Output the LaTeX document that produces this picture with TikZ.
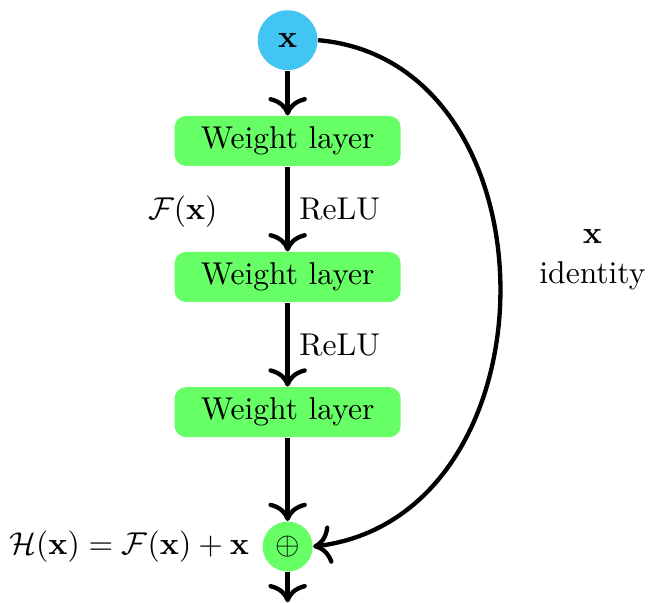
\documentclass[tikz,border=0pt]{standalone}
\usepackage{amsmath}
\usetikzlibrary{positioning,arrows.meta}
\definecolor{inblue}{RGB}{66,197,242}
\definecolor{laygreen}{RGB}{102,255,102}
\tikzset{
    layer/.style={fill=laygreen, rounded corners=4pt, minimum width=2.76cm, minimum height=.61cm},
    conn/.style={->, line width=1.5pt}
}
\begin{document}
\begin{tikzpicture}[>={To[scale=1.3]}, font=\fontsize{10.95pt}{13.6pt}\selectfont]
\useasboundingbox (0,0) rectangle (7.92,-7.35);
\node[circle, fill=inblue, minimum size=.73cm, inner sep=0pt](x) at (3.51,-.49){$\mathbf{x}$};
\node[layer](l1) at (3.51,-1.72){Weight layer};
\node[layer](l2) at (3.51,-3.38){Weight layer};
\node[layer](l3) at (3.51,-5.03){Weight layer};
\node[circle, fill=laygreen, minimum size=.61cm, inner sep=0pt](sum) at (3.51,-6.67){$\oplus$};
\coordinate (out) at (3.51,-7.35);

\draw[conn](x)--(l1);
\draw[conn](l1)--node[right]{ReLU}(l2);
\draw[conn](l2)--node[right]{ReLU}(l3);
\draw[conn](l3)--(sum);
\draw[conn](sum)--(out);
\draw[conn](x.east) .. controls (6.85,-.75) and (6.85,-6.3) .. (sum.east);

\node(f) at (2.23,-2.58){$\mathcal{F}(\mathbf{x})$};
\node[align=center](id) at (7.23,-3.17){$\mathbf{x}$\\identity};
\node[left=1pt of sum]{$\mathcal{H}(\mathbf{x})=\mathcal{F}(\mathbf{x})+\mathbf{x}$};

\end{tikzpicture}
\end{document}
